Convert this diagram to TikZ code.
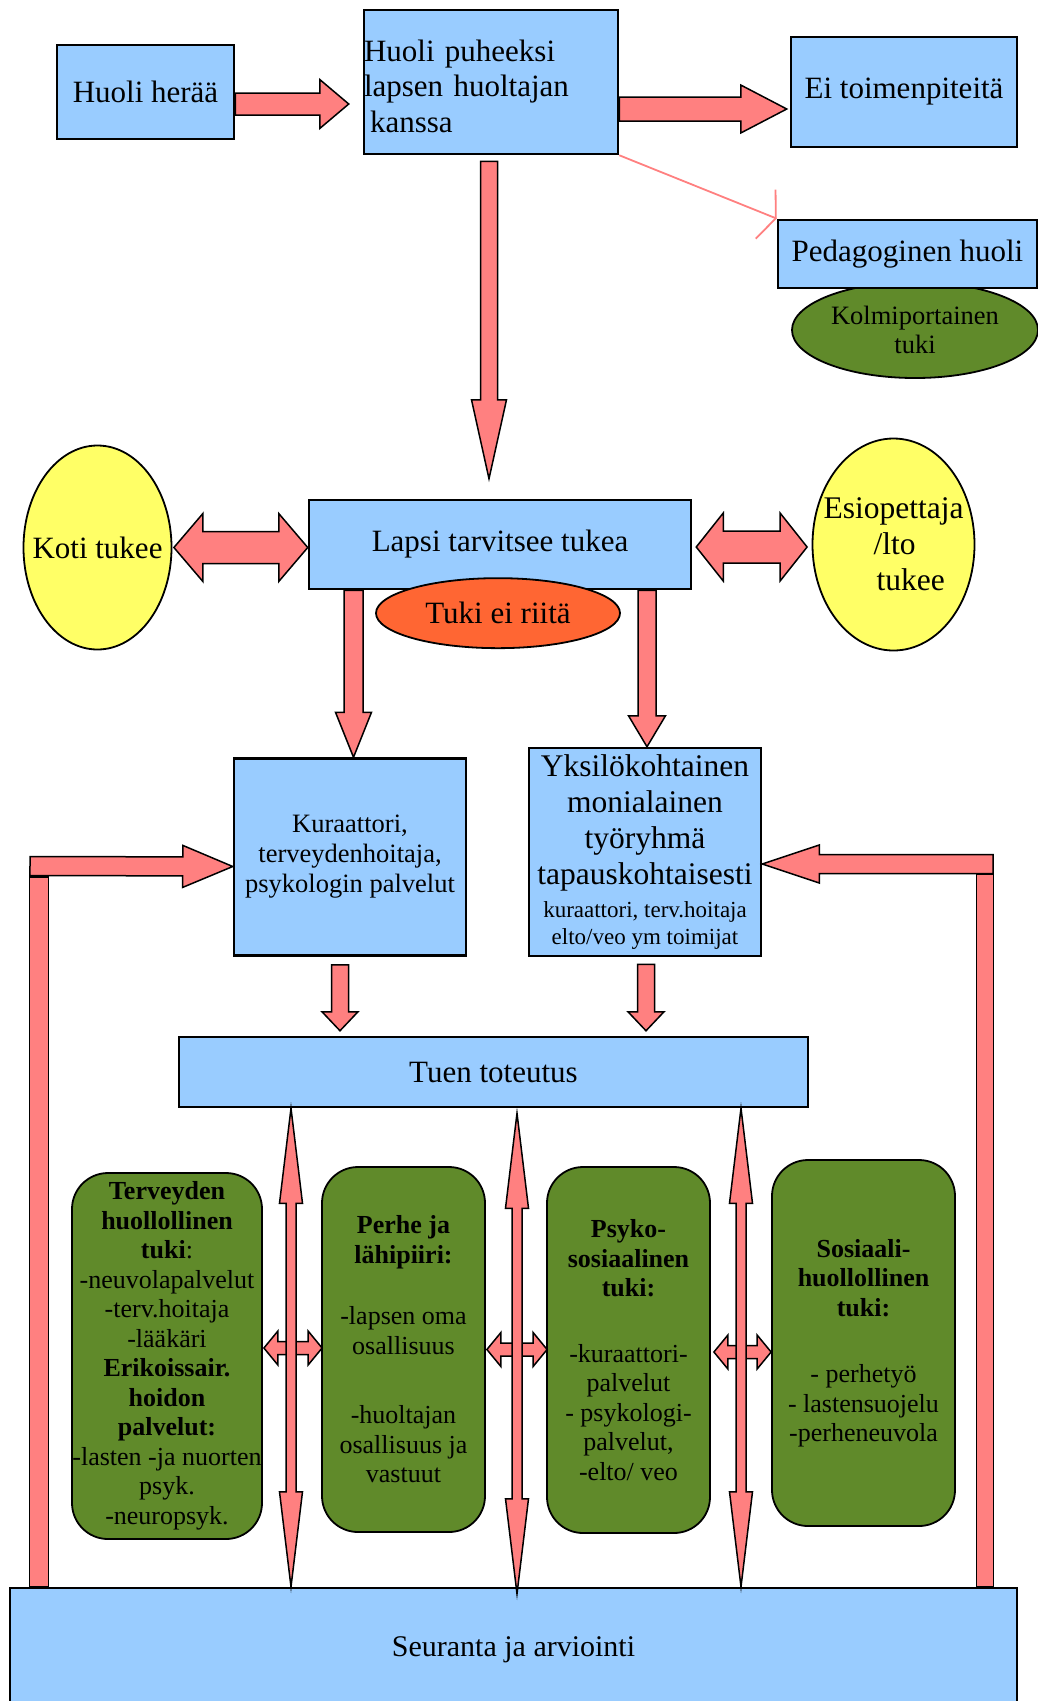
\documentclass[tikz,border=0pt]{standalone}
\usepackage{fontspec}
\setmainfont{Liberation Serif}
\usepackage{xcolor}
\usepackage{tikz}
\usetikzlibrary{positioning,arrows.meta,shapes.geometric,calc}

\definecolor{boxblue}{RGB}{153,204,255}
\definecolor{arrowred}{RGB}{255,128,128}
\definecolor{ovalyellow}{RGB}{255,255,102}
\definecolor{ovalorange}{RGB}{255,102,51}
\definecolor{boxgreen}{RGB}{96,138,42}

\newcommand{\bigfont}{\fontsize{31}{34}\selectfont}
\newcommand{\midfont}{\fontsize{26.5}{30}\selectfont}
\newcommand{\greenfont}{\fontsize{26}{29.5}\selectfont}
\newcommand{\smallfont}{\fontsize{23}{28}\selectfont}

\tikzset{
	bw/.store in=\arrbody, hw/.store in=\arrhead, hl/.store in=\arrlen,
	bw=10pt, hw=20pt, hl=30pt,
	barrow/.style={draw, line width=1.5pt, fill=arrowred, to path={
		($(\tikztostart)!\arrbody!90:(\tikztotarget)$)
		-- ($(\tikztotarget)!\arrlen!(\tikztostart)!\arrbody!-90:(\tikztostart)$)
		-- ($(\tikztotarget)!\arrlen!(\tikztostart)!\arrhead!-90:(\tikztostart)$)
		-- (\tikztotarget)
		-- ($(\tikztotarget)!\arrlen!(\tikztostart)!\arrhead!90:(\tikztostart)$)
		-- ($(\tikztotarget)!\arrlen!(\tikztostart)!\arrbody!90:(\tikztostart)$)
		-- ($(\tikztostart)!\arrbody!-90:(\tikztotarget)$)
		-- cycle}},
	dbarrow/.style={draw, line width=1.5pt, fill=arrowred, to path={
		(\tikztostart)
		-- ($(\tikztostart)!\arrlen!(\tikztotarget)!\arrhead!90:(\tikztotarget)$)
		-- ($(\tikztostart)!\arrlen!(\tikztotarget)!\arrbody!90:(\tikztotarget)$)
		-- ($(\tikztotarget)!\arrlen!(\tikztostart)!\arrbody!-90:(\tikztostart)$)
		-- ($(\tikztotarget)!\arrlen!(\tikztostart)!\arrhead!-90:(\tikztostart)$)
		-- (\tikztotarget)
		-- ($(\tikztotarget)!\arrlen!(\tikztostart)!\arrhead!90:(\tikztostart)$)
		-- ($(\tikztotarget)!\arrlen!(\tikztostart)!\arrbody!90:(\tikztostart)$)
		-- ($(\tikztostart)!\arrlen!(\tikztotarget)!\arrbody!-90:(\tikztotarget)$)
		-- ($(\tikztostart)!\arrlen!(\tikztotarget)!\arrhead!-90:(\tikztotarget)$)
		-- cycle}},
	bbar/.style={draw, line width=1.5pt, fill=arrowred, to path={
		($(\tikztostart)!\arrbody!90:(\tikztotarget)$)
		-- ($(\tikztotarget)!\arrbody!-90:(\tikztostart)$)
		-- ($(\tikztotarget)!\arrbody!90:(\tikztostart)$)
		-- ($(\tikztostart)!\arrbody!-90:(\tikztotarget)$)
		-- cycle}}
}

\begin{document}
\begin{tikzpicture}[x=1pt, y=-1pt, font=\bigfont,
		bluebox/.style={draw, line width=2.5pt, fill=boxblue, inner sep=0pt, align=center},
		greenbox/.style={draw, line width=1.8pt, fill=boxgreen, rounded corners=36pt, inner sep=0pt, align=center, font=\greenfont, minimum height=366pt},
		oval/.style={draw, line width=1.8pt, ellipse, inner sep=0pt, align=center},
		thinarrow/.style={draw=arrowred, line width=1.8pt, -{Straight Barb[length=11pt,width=53pt]}}]
		\useasboundingbox (0,0) rectangle (1038,1701);

		% top row
		\node[bluebox, minimum width=177pt, minimum height=94pt] (hh) at (145.5,92) {Huoli herää};
		\node[bluebox, minimum width=254pt, minimum height=144pt, text width=254pt, align=left, font=\fontsize{31}{35.5}\selectfont] (hp) at (491,82) {\rule{0pt}{30pt}Huoli puheeksi\\lapsen huoltajan\\\hspace*{6pt}kanssa};
		\node[bluebox, minimum width=226pt, minimum height=110pt] (ei) at (904,92) {Ei toimenpiteitä};
		\node[oval, fill=boxgreen, minimum width=246pt, minimum height=96pt, font=\fontsize{26.5}{29}\selectfont] (kolmi) at (915,330) {Kolmiportainen\\tuki};
		\node[bluebox, minimum width=259pt, minimum height=68pt, above=-8pt of kolmi, xshift=-7.5pt] (ped) {Pedagoginen huoli};

		% middle
		\node[bluebox, minimum width=382pt, minimum height=89pt] (lapsi) at (500,544.5) {Lapsi tarvitsee tukea};
		\node[oval, fill=ovalorange, minimum width=244pt, minimum height=70pt, below=-13pt of lapsi, xshift=-2pt] (tuki) {Tuki ei riitä};
		\node[oval, fill=ovalyellow, minimum width=148pt, minimum height=204pt, label={center:{Koti tukee}}] (koti) at (97.5,547.5) {};
		\node[oval, fill=ovalyellow, minimum width=162pt, minimum height=212pt,
			label={[align=left, font=\fontsize{31.5}{36}\selectfont]center:{Esiopettaja\\\hspace*{50pt}/lto\\\hspace*{53pt}tukee}}] (esi) at (893.5,544.5) {};

		\node[bluebox, minimum width=232pt, minimum height=197pt, font=\midfont] (kur) at (350,857) {Kuraattori,\\terveydenhoitaja,\\psykologin palvelut};
		\node[bluebox, minimum width=232pt, minimum height=208pt, font=\fontsize{31.5}{36}\selectfont] (yks) at (645,852) {Yksilökohtainen\\monialainen\\työryhmä\\tapauskohtaisesti\\[-3pt]\smallfont kuraattori, terv.hoitaja\\[-9pt]\smallfont elto/veo ym toimijat};

		% bottom
		\node[bluebox, minimum width=629pt, minimum height=70pt] (tuen) at (493.5,1072) {Tuen toteutus};
		\node[bluebox, minimum width=1007pt, minimum height=124pt, font=\fontsize{30}{34}\selectfont] (seu) at (513.5,1650) {Seuranta ja arviointi};

		\node[greenbox, minimum width=190pt] (g1) at (167,1356) {\textbf{Terveyden}\\\textbf{huollollinen}\\\textbf{tuki}:\\-neuvolapalvelut\\-terv.hoitaja\\-lääkäri\\\textbf{Erikoissair.}\\\textbf{hoidon}\\\textbf{palvelut:}\\-lasten -ja nuorten\\psyk.\\-neuropsyk.};
		\node[greenbox, minimum width=163pt, minimum height=365pt] (g2) at (403.5,1349.5) {\textbf{Perhe ja}\\\textbf{lähipiiri:}\\[32pt]-lapsen oma\\osallisuus\\[40pt]-huoltajan\\osallisuus ja\\vastuut};
		\node[greenbox, minimum width=163pt] (g3) at (628.5,1350) {\textbf{Psyko-}\\\textbf{sosiaalinen}\\\textbf{tuki:}\\[36pt]-kuraattori-\\palvelut\\- psykologi-\\palvelut,\\-elto/ veo};
		\node[greenbox, minimum width=183pt] (g4) at (863.5,1343) {\textbf{Sosiaali-}\\\textbf{huollollinen}\\\textbf{tuki:}\\[37pt]- perhetyö\\- lastensuojelu\\-perheneuvola};

		% connectors
		\draw[barrow, bw=11pt, hw=24.5pt, hl=29pt] ([yshift=-12pt]hh.east) to ([xshift=-14pt,yshift=-22pt]hp.west);
		\draw[barrow, bw=12pt, hw=24pt, hl=46pt] ([yshift=-27pt]hp.east) to ([xshift=-3pt,yshift=-17pt]ei.west);
		\draw[thinarrow] (hp.south east) -- (ped.north west);
		\draw[barrow, bw=8.5pt, hw=17.5pt, hl=79pt] ([xshift=-2pt,yshift=-6pt]hp.south) to ([xshift=-11pt,yshift=20pt]lapsi.north);

		\draw[dbarrow, bw=16pt, hw=34pt, hl=29pt] ([xshift=1.5pt]koti.east) to ([yshift=-3pt]lapsi.west);
		\draw[dbarrow, bw=16pt, hw=34pt, hl=27pt] ([xshift=4pt,yshift=-2.5pt]lapsi.east) to ([xshift=-4.5pt,yshift=-2.5pt]esi.west);
		\draw[barrow, bw=9.5pt, hw=18pt, hl=45pt] ([xshift=-146.5pt]lapsi.south) to ([xshift=3.5pt]kur.north);
		\draw[barrow, bw=9pt, hw=18.5pt, hl=31pt] ([xshift=147pt]lapsi.south) to ([xshift=2pt]yks.north);

		% feedback from Seuranta
		\coordinate (backl) at (30,866);
		\coordinate (barl) at (39,877);
		\coordinate (backr) at (993,864);
		\coordinate (barr) at (985,874);
		\draw[bbar, bw=9.5pt] (barl) to (barl |- seu.north);
		\draw[bbar, bw=8.5pt] (barr) to (barr |- seu.north);
		\draw[barrow, bw=9.5pt, hw=21pt, hl=50pt] (backl) to ([yshift=-9.5pt]kur.west);
		\draw[barrow, bw=9.5pt, hw=19pt, hl=57pt] (backr) to ([yshift=-12pt]yks.east);

		\draw[barrow, bw=8.5pt, hw=18pt, hl=19pt] ([xshift=-10pt,yshift=-8pt]kur.south) to ([xshift=-153.5pt,yshift=5pt]tuen.north);
		\draw[barrow, bw=8.5pt, hw=18pt, hl=19pt] ([xshift=1pt,yshift=-7pt]yks.south) to ([xshift=152.5pt,yshift=5pt]tuen.north);

		\draw[dbarrow, bw=6.5pt, hw=17pt, hl=14pt] ([xshift=1pt,yshift=8pt]g1.east) to ([xshift=1pt,yshift=1.5pt]g2.west);
		\draw[dbarrow, bw=6.5pt, hw=17pt, hl=14pt] ([xshift=1pt]g2.east) to ([xshift=1pt,yshift=0.5pt]g3.west);
		\draw[dbarrow, bw=6.5pt, hw=17pt, hl=14pt] ([xshift=3pt,yshift=-2pt]g3.east) to ([yshift=-9pt]g4.west);

		\draw[dbarrow, bw=5pt, hw=11.5pt, hl=95pt] ([xshift=-202.5pt]tuen.south) to ([xshift=-222.5pt]seu.north);
		\draw[dbarrow, bw=5pt, hw=11.5pt, hl=95pt] ([xshift=23.5pt,yshift=-5pt]tuen.south) to ([xshift=3.5pt,yshift=-7pt]seu.north);
		\draw[dbarrow, bw=5pt, hw=11.5pt, hl=95pt] ([xshift=247.5pt]tuen.south) to ([xshift=227.5pt]seu.north);
	\end{tikzpicture}
\end{document}
